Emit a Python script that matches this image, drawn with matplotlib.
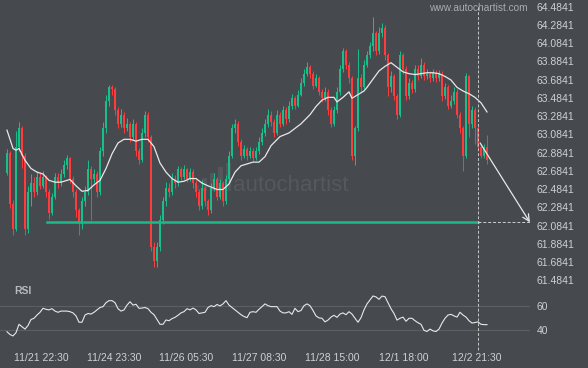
import matplotlib
matplotlib.use('Agg')
import matplotlib.pyplot as plt
from matplotlib.patches import Rectangle

BG = '#46494e'
UP = '#17c08a'
DOWN = '#ff3b3b'
TXT = '#cfd0d2'

plt.rcParams['font.family'] = ['Liberation Sans', 'DejaVu Sans']

first_open = 62.66
closes = [
    62.88, 62.32, 62.05, 62.95, 63.15, 62.85, 62.05, 62.45, 62.55, 62.45,
    62.62, 62.52, 62.62, 62.45, 62.22, 62.40, 62.62, 62.55, 62.65, 62.75,
    62.82, 62.60, 62.45, 62.25, 62.10, 62.35, 62.45, 62.70, 62.60, 62.65,
    62.45, 62.90, 63.15, 63.45, 63.60, 63.58, 63.35, 63.20, 63.30, 63.15,
    63.20, 63.05, 63.20, 62.90, 62.80, 63.10, 63.30, 63.05, 61.85, 61.70,
    61.85, 62.15, 62.35, 62.50, 62.45, 62.60, 62.55, 62.70, 62.62, 62.70,
    62.60, 62.67, 62.55, 62.45, 62.30, 62.50, 62.35, 62.25, 62.50, 62.60,
    62.40, 62.55, 62.35, 62.60, 62.85, 63.15, 63.20, 63.00, 62.85, 62.92,
    62.85, 62.90, 62.83, 62.90, 63.00, 63.10, 63.20, 63.30, 63.22, 63.10,
    63.30, 63.20, 63.35, 63.25, 63.40, 63.48, 63.40, 63.52, 63.65, 63.75,
    63.82, 63.75, 63.62, 63.70, 63.55, 63.48, 63.55, 63.35, 63.20, 63.35,
    63.55, 63.80, 64.00, 63.85, 63.70, 62.85, 63.15, 63.70, 63.60, 63.85,
    63.95, 64.05, 64.20, 64.00, 64.20, 64.25, 63.95, 63.60, 63.72, 63.50,
    63.30, 63.95, 63.80, 63.50, 63.65, 63.58, 63.80, 63.72, 63.85, 63.72,
    63.75, 63.70, 63.76, 63.70, 63.75, 63.50, 63.60, 63.40, 63.45, 63.55,
    63.30, 63.15, 62.85, 63.72, 63.20, 63.35, 63.15, 62.95, 62.85, 62.95,
    62.80,
]
highs = [
    62.92, 62.90, 62.36, 63.12, 63.22, 63.18, 62.88, 62.52, 62.65, 62.62,
    62.68, 62.66, 62.68, 62.64, 62.48, 62.44, 62.66, 62.66, 62.70, 62.80,
    62.86, 62.84, 62.63, 62.48, 62.28, 62.40, 62.52, 62.80, 62.74, 62.70,
    62.68, 62.95, 63.22, 63.52, 63.63, 63.63, 63.60, 63.38, 63.36, 63.33,
    63.26, 63.22, 63.25, 63.22, 62.94, 63.15, 63.34, 63.33, 63.08, 61.90,
    61.90, 62.20, 62.40, 62.56, 62.55, 62.66, 62.64, 62.74, 62.73, 62.75,
    62.72, 62.72, 62.70, 62.58, 62.48, 62.58, 62.52, 62.38, 62.55, 62.66,
    62.62, 62.60, 62.57, 62.64, 62.90, 63.20, 63.25, 63.23, 63.03, 62.97,
    62.95, 62.95, 62.93, 62.95, 63.05, 63.15, 63.25, 63.36, 63.34, 63.25,
    63.35, 63.33, 63.40, 63.38, 63.45, 63.53, 63.51, 63.57, 63.70, 63.80,
    63.88, 63.85, 63.78, 63.75, 63.72, 63.58, 63.60, 63.58, 63.38, 63.40,
    63.60, 63.85, 64.03, 64.02, 63.88, 63.72, 63.18, 64.02, 63.75, 63.90,
    64.00, 64.10, 64.37, 64.22, 64.26, 64.30, 64.28, 63.98, 63.78, 63.75,
    63.53, 64.00, 63.98, 63.83, 63.70, 63.68, 63.85, 63.84, 63.92, 63.88,
    63.80, 63.78, 63.80, 63.79, 63.79, 63.78, 63.65, 63.63, 63.52, 63.60,
    63.58, 63.33, 63.18, 63.76, 63.74, 63.40, 63.38, 63.18, 62.98, 62.98,
    63.08,
]
lows = [
    62.64, 62.28, 61.98, 62.02, 62.90, 62.72, 61.98, 62.00, 62.30, 62.40,
    62.42, 62.48, 62.50, 62.40, 62.16, 62.20, 62.38, 62.50, 62.52, 62.62,
    62.70, 62.55, 62.40, 62.18, 61.98, 62.05, 62.30, 62.42, 62.14, 62.55,
    62.40, 62.42, 62.85, 63.10, 63.40, 63.52, 63.30, 63.15, 63.16, 63.10,
    63.12, 63.00, 63.02, 62.85, 62.76, 62.78, 63.05, 63.00, 61.80, 61.63,
    61.63, 61.80, 62.10, 62.30, 62.40, 62.42, 62.50, 62.52, 62.58, 62.60,
    62.56, 62.57, 62.50, 62.40, 62.25, 62.27, 62.30, 62.20, 62.22, 62.46,
    62.36, 62.38, 62.30, 62.32, 62.56, 62.82, 63.10, 62.96, 62.80, 62.82,
    62.80, 62.82, 62.79, 62.80, 62.87, 62.97, 63.07, 63.17, 63.18, 63.05,
    63.08, 63.16, 63.18, 63.20, 63.22, 63.36, 63.36, 63.38, 63.50, 63.62,
    63.72, 63.70, 63.58, 63.60, 63.52, 63.44, 63.45, 63.30, 63.17, 63.18,
    63.32, 63.52, 63.77, 63.80, 63.65, 62.80, 62.75, 63.12, 63.55, 63.58,
    63.82, 63.92, 64.00, 63.95, 63.97, 64.15, 63.90, 63.50, 63.55, 63.46,
    63.25, 63.27, 63.75, 63.46, 63.47, 63.54, 63.55, 63.68, 63.70, 63.68,
    63.69, 63.66, 63.67, 63.66, 63.67, 63.45, 63.47, 63.36, 63.37, 63.42,
    63.26, 63.10, 62.68, 62.82, 63.05, 63.15, 62.98, 62.92, 62.82, 62.83,
    62.76,
]

# moving average, read at every second candle or so
ma_idx = [0, 2, 3, 4, 6, 8, 10, 12, 14, 16, 18, 20, 21, 23, 25, 27, 29, 31, 33,
          35, 37, 39, 41, 43, 45, 47, 49, 51, 53, 55, 57, 59, 61, 63, 65, 67,
          70, 72, 74, 76, 78, 80, 82, 84, 86, 88, 91, 94, 98, 101, 103, 105,
          107, 109, 110, 112, 114, 115, 117, 119, 120, 122, 124, 126, 128,
          130, 132, 134, 136, 138, 140, 142, 144, 146, 148, 150, 152, 154,
          156, 158, 160]
ma_val = [63.13, 62.93, 62.91, 62.93, 62.80, 62.71, 62.67, 62.65, 62.58, 62.56,
          62.56, 62.58, 62.59, 62.52, 62.46, 62.47, 62.53, 62.58, 62.71, 62.87,
          62.99, 63.03, 63.03, 63.01, 63.03, 63.03, 62.95, 62.77, 62.67, 62.60,
          62.56, 62.57, 62.60, 62.60, 62.55, 62.52, 62.48, 62.48, 62.54, 62.67,
          62.74, 62.76, 62.78, 62.78, 62.84, 62.96, 63.06, 63.10, 63.20, 63.30,
          63.39, 63.46, 63.49, 63.49, 63.44, 63.49, 63.55, 63.48, 63.52, 63.56,
          63.60, 63.69, 63.78, 63.83, 63.87, 63.82, 63.77, 63.75, 63.74, 63.75,
          63.76, 63.76, 63.75, 63.72, 63.68, 63.60, 63.56, 63.53, 63.49, 63.43,
          63.33]

rsi = [
    38.8, 36.5, 35.3, 38.0, 45.0, 43.0, 41.0, 44.0, 49.0, 50.0,
    52.7, 55.0, 58.3, 57.5, 57.0, 58.0, 56.0, 55.0, 56.0, 56.0,
    56.0, 55.5, 54.5, 52.0, 46.7, 46.7, 52.7, 54.0, 53.5, 55.0,
    57.0, 59.0, 59.7, 63.0, 64.7, 64.7, 63.0, 58.0, 56.0, 57.0,
    61.0, 63.8, 61.0, 61.7, 58.3, 58.5, 59.0, 58.0, 55.0, 53.0,
    49.0, 45.0, 45.0, 48.6, 48.0, 49.7, 50.8, 52.5, 54.5, 55.5,
    58.0, 57.0, 58.5, 57.0, 54.0, 54.5, 55.0, 59.0, 60.5, 59.7,
    61.5, 60.3, 62.0, 64.7, 61.0, 59.0, 57.0, 55.0, 53.0, 51.5,
    50.5, 55.0, 55.5, 55.0, 57.5, 59.7, 62.0, 60.5, 59.7, 59.7,
    59.7, 56.0, 54.5, 54.5, 55.5, 53.3, 58.3, 55.5, 56.5, 60.5,
    62.0, 60.5, 56.5, 52.0, 50.3, 50.0, 47.0, 48.5, 51.0, 52.5,
    50.8, 53.5, 54.5, 53.0, 55.5, 53.5, 50.0, 46.7, 50.5, 57.0,
    62.0, 65.3, 68.6, 67.8, 65.8, 68.5, 68.0, 63.0, 58.0, 54.0,
    48.5, 50.0, 51.0, 47.5, 50.0, 50.0, 48.0, 46.3, 45.0, 40.0,
    39.0, 41.0, 39.5, 39.0, 41.0, 46.0, 50.0, 52.7, 53.3, 52.0,
    51.0, 55.0, 52.7, 51.0, 48.0, 46.0, 46.5, 47.0, 45.0, 44.7,
    44.7,
]

x_labels = ['11/21 22:30', '11/24 23:30', '11/26 05:30', '11/27 08:30',
            '11/28 15:00', '12/1 18:00', '12/2 21:30']
x_label_pos = [11.3, 35.7, 59.7, 84.0, 108.3, 132.3, 156.7]
y_ticks = [61.4841 + 0.2 * k for k in range(16)]

level = 62.12          # support level
now_idx = 156.9        # dashed "now" marker
level_start = 13.3
arrow_from = (157.7, 62.99)

fig = plt.figure(figsize=(5.88, 3.68), dpi=100, facecolor=BG)
ax = fig.add_axes([0, 1 - 283 / 368, 530 / 588, 283 / 368], facecolor=BG)
ax_r = fig.add_axes([0, 1 - 345 / 368, 530 / 588, 62 / 368], facecolor=BG)

n = len(closes)
opens = [first_open] + closes[:-1]
idx = list(range(n))
colors = [UP if c >= o else DOWN for o, c in zip(opens, closes)]
ax.vlines(idx, lows, highs, colors=colors, linewidth=0.7, zorder=2)
heights = [c - o if abs(c - o) > 0.012 else 0.012 for o, c in zip(opens, closes)]
ax.bar(idx, heights, bottom=opens, width=0.62, color=colors, linewidth=0, zorder=3)

ax.plot(ma_idx, ma_val, color='#e8e8e8', linewidth=0.9, zorder=4)

# support level, current-time marker and projection arrow
ax.plot([level_start, now_idx], [level, level], color='#1db987', linewidth=1.8, zorder=4)
ax.plot([now_idx, 174.3], [level, level], color='#d0d0d0', linewidth=0.7,
        linestyle=(0, (3, 2)), zorder=4)
ax.annotate('', xy=(174.3, level), xytext=arrow_from,
            arrowprops=dict(arrowstyle='->', color='#e8e8e8', lw=0.9,
                            mutation_scale=12, shrinkA=0, shrinkB=0), zorder=5)

ax.set_xlim(-7 / 3, 523 / 3)
ax.set_ylim(61.4545, 64.5576)
ax.yaxis.tick_right()
ax.set_yticks(y_ticks)
ax.set_yticklabels([f'{v:.4f}' for v in y_ticks])
ax.tick_params(axis='y', length=0, pad=5, labelsize=7.5, labelcolor=TXT)
ax.set_xticks([])
for s in ax.spines.values():
    s.set_visible(False)

ax.text(0.995, 0.988, 'www.autochartist.com', transform=ax.transAxes, ha='right',
        va='top', fontsize=7.3, color='#a9abae')
ax.text(0.44, 0.345, 'autochartist', transform=ax.transAxes, ha='left',
        va='center', fontsize=16, color='#55585d', fontweight='light', zorder=1)
for k, (bx, bh) in enumerate([(0.367, 0.02), (0.382, 0.045), (0.397, 0.065),
                              (0.412, 0.085), (0.427, 0.1)]):
    ax.add_patch(Rectangle((bx, 0.325), 0.008, bh, transform=ax.transAxes,
                           color='#53565b', zorder=1, linewidth=0))

# RSI panel
ax_r.axhline(60, color='#5b5e63', linewidth=0.8)
ax_r.axhline(40, color='#5b5e63', linewidth=0.8)
ax_r.plot(idx, rsi, color='#e8e8e8', linewidth=0.8)
ax_r.set_xlim(-7 / 3, 523 / 3)
ax_r.set_ylim(27.75, 79.4)
ax_r.yaxis.tick_right()
ax_r.set_yticks([40, 60])
ax_r.tick_params(axis='y', length=0, pad=5, labelsize=7.5, labelcolor=TXT)
ax_r.set_xticks(x_label_pos)
ax_r.set_xticklabels(x_labels)
ax_r.tick_params(axis='x', length=0, pad=6, labelsize=7.5, labelcolor=TXT)
for s in ax_r.spines.values():
    s.set_visible(False)
ax_r.text(0.026, 0.87, 'RSI', transform=ax_r.transAxes, fontsize=7.5,
          fontweight='bold', color='#b8babd', va='center')

# vertical "now" line across both panels
xf = ax.transData.transform((now_idx, 0))[0] / fig.bbox.width
fig.add_artist(plt.Line2D([xf, xf], [1 - 350 / 368, 1 - 5 / 368], color='#c8c8c8',
                          linewidth=0.7, linestyle=(0, (3, 2))))

fig.savefig('out.png', dpi=100, facecolor=BG)
